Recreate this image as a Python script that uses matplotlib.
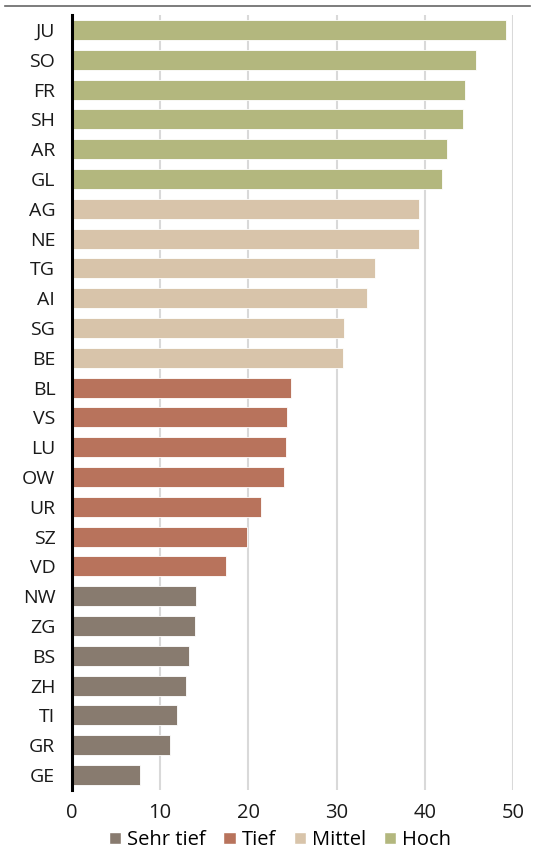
import matplotlib.pyplot as plt
from matplotlib.lines import Line2D
from matplotlib.patches import Patch
import numpy as np

plt.rcParams['font.family'] = ['Open Sans', 'DejaVu Sans']

kantone = ['JU', 'SO', 'FR', 'SH', 'AR', 'GL', 'AG', 'NE', 'TG', 'AI', 'SG', 'BE',
           'BL', 'VS', 'LU', 'OW', 'UR', 'SZ', 'VD',
           'NW', 'ZG', 'BS', 'ZH', 'TI', 'GR', 'GE']
werte = [49.2, 45.8, 44.6, 44.3, 42.5, 42.0, 39.3, 39.3, 34.4, 33.4, 30.8, 30.7,
         24.8, 24.4, 24.3, 24.0, 21.4, 19.8, 17.5,
         14.05, 14.0, 13.3, 12.9, 11.9, 11.1, 7.7]
gruppe = ['Hoch'] * 6 + ['Mittel'] * 6 + ['Tief'] * 7 + ['Sehr tief'] * 7

kategorien = ['Sehr tief', 'Tief', 'Mittel', 'Hoch']
farben = {'Sehr tief': '#887b6f', 'Tief': '#b8735c', 'Mittel': '#d8c4aa', 'Hoch': '#b3b77e'}

fig = plt.figure(figsize=(5.36, 8.5), dpi=100)
ax = fig.add_axes([72/536, 1-790/850, (513-72)/536, 775/850])

y = np.arange(len(kantone))
ax.barh(y, werte, height=0.67, color=[farben[g] for g in gruppe],
        edgecolor='white', linewidth=0.6, zorder=3)

ax.set_ylim(len(kantone) - 0.5, -0.5)
ax.set_xlim(0, 50)
ax.set_yticks(y)
ax.set_yticklabels(kantone, fontsize=14, color='#1a1a1a')
ax.set_xticks(range(0, 51, 10))
ax.tick_params(axis='x', labelsize=14.5, colors='#1a1a1a', length=0, pad=9)
ax.tick_params(axis='y', length=0, pad=12)

ax.grid(axis='x', color='#d9d9d9', linewidth=1.5, zorder=0)
for s in ['top', 'right', 'bottom']:
    ax.spines[s].set_visible(False)
ax.spines['left'].set_linewidth(2.2)
ax.spines['left'].set_color('black')
ax.spines['left'].set_zorder(4)

fig.add_artist(Line2D([5/536, 530/536], [1-6/850, 1-6/850], color='#666666', linewidth=1.2))

handles = [Patch(facecolor=farben[k], edgecolor='white', label=k) for k in kategorien]
fig.legend(handles=handles, loc='center', bbox_to_anchor=(280/536, 1-840/850), ncol=4,
           frameon=False, fontsize=14.5, handlelength=0.6, handleheight=0.6,
           handletextpad=0.3, columnspacing=0.9, borderpad=0)

fig.savefig('out.png', dpi=100)
